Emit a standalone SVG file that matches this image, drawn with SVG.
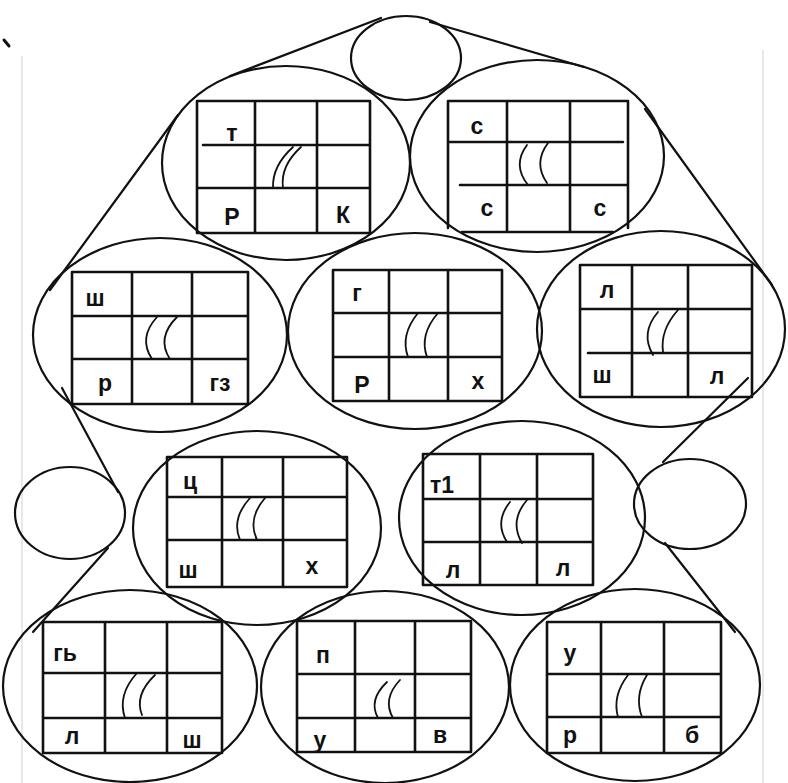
<svg xmlns="http://www.w3.org/2000/svg" width="788" height="783" viewBox="0 0 788 783">
<style>
.c{fill:none;stroke:#111;stroke-width:2.2}
.g{fill:none;stroke:#111;stroke-width:2.6;stroke-linecap:round}
.a{fill:none;stroke:#111;stroke-width:1.8;stroke-linecap:round}
.l{fill:none;stroke:#111;stroke-width:2.2;stroke-linecap:round}
.t{font-family:"Liberation Sans","DejaVu Sans",sans-serif;font-size:23px;font-weight:bold;fill:#111;text-anchor:middle}
.f{stroke:#d8d8d8;stroke-width:1.2}
</style>
<rect width="788" height="783" fill="#fff"/>
<g id="scan-marks">
<line class="f" x1="22" y1="56" x2="22" y2="783"/>
<line class="f" x1="763" y1="50" x2="763" y2="783"/>
<path d="M4 40 L9 46" stroke="#111" stroke-width="3" stroke-linecap="round"/>
</g>
<g id="connectors">
<line class="l" x1="381" y1="18" x2="230" y2="76"/>
<line class="l" x1="430" y1="22" x2="584" y2="67"/>
<line class="l" x1="178" y1="115" x2="50" y2="290"/>
<line class="l" x1="645" y1="109" x2="772" y2="285"/>
<line class="l" x1="62" y1="388" x2="118" y2="492"/>
<line class="l" x1="108" y1="548" x2="33" y2="632"/>
<line class="l" x1="748" y1="378" x2="663" y2="462"/>
<line class="l" x1="665" y1="543" x2="735" y2="632"/>
</g>
<g id="top-small"><ellipse class="c" cx="406" cy="58" rx="55" ry="42"/></g>
<g id="left-small"><ellipse class="c" cx="70" cy="513" rx="55" ry="46"/></g>
<g id="right-small"><ellipse class="c" cx="690" cy="504" rx="56" ry="45"/></g>

<g id="n-t-r-k">
<ellipse class="c" cx="286" cy="163" rx="124" ry="97"/>
<path class="g" d="M197 101 H370 M197 233 H370 M197 101 V233 M370 101 V233 M255 101 V233 M317 101 V233 M203 145 H370 M197 188 H370"/>
<path class="a" d="M293 147 Q272 166 273 188 M301 147 Q280 166 283 188"/>
<text class="t" x="232" y="141">т</text><text class="t" x="232" y="225">Р</text><text class="t" x="343" y="223">К</text>
</g>

<g id="n-s-s-s">
<ellipse class="c" cx="537" cy="156" rx="127" ry="96"/>
<path class="g" d="M448 101 H628 M462 232 H613 M448 101 V228 M628 101 V228 M507 101 V232 M570 101 V232 M450 142 H623 M460 185 H627"/>
<path class="a" d="M527 145 Q512 165 528 185 M548 143 Q533 163 547 183"/>
<text class="t" x="477" y="134">с</text><text class="t" x="487" y="216">с</text><text class="t" x="600" y="216">с</text>
</g>

<g id="n-sh-r-gz">
<ellipse class="c" cx="160" cy="335" rx="127" ry="97"/>
<path class="g" d="M72 272 H248 M72 404 H248 M72 272 V404 M248 272 V404 M132 272 V404 M192 272 V404 M72 316 H248 M72 359 H248"/>
<path class="a" d="M157 317 Q138 338 152 359 M177 317 Q156 338 170 359"/>
<text class="t" x="95" y="306">ш</text><text class="t" x="105" y="391">р</text><text class="t" x="220" y="391">гз</text>
</g>

<g id="n-g-r-h">
<ellipse class="c" cx="415" cy="331" rx="127" ry="98"/>
<path class="g" d="M333 270 H502 M333 401 H502 M333 270 V401 M502 270 V401 M389 270 V401 M448 270 V401 M333 313 H502 M333 357 H502"/>
<path class="a" d="M418 313 Q400 335 408 357 M438 313 Q419 335 427 357"/>
<text class="t" x="357" y="301">г</text><text class="t" x="362" y="393">Р</text><text class="t" x="478" y="389">х</text>
</g>

<g id="n-l-sh-l">
<ellipse class="c" cx="661" cy="329" rx="124" ry="98"/>
<path class="g" d="M580 265 H752 M580 397 H752 M580 265 V397 M752 265 V397 M632 265 V397 M688 265 V397 M580 309 H752 M588 353 H752"/>
<path class="a" d="M658 312 Q640 333 653 355 M678 310 Q660 330 663 352"/>
<text class="t" x="607" y="298">л</text><text class="t" x="602" y="383">ш</text><text class="t" x="717" y="384">л</text>
</g>

<g id="n-ts-sh-h">
<ellipse class="c" cx="257" cy="528" rx="124" ry="97"/>
<path class="g" d="M167 457 H347 M167 587 H347 M167 457 V587 M347 457 V587 M222 457 V587 M283 457 V587 M167 497 H347 M167 540 H347"/>
<path class="a" d="M250 498 Q231 519 240 540 M265 498 Q247 519 257 540"/>
<text class="t" x="190" y="489">ц</text><text class="t" x="188" y="578">ш</text><text class="t" x="312" y="574">х</text>
</g>

<g id="n-t1-l-l">
<ellipse class="c" cx="522" cy="518" rx="123" ry="97"/>
<path class="g" d="M423 454 H593 M423 585 H593 M423 454 V585 M593 454 V585 M480 454 V585 M537 454 V585 M423 499 H593 M423 542 H593"/>
<path class="a" d="M510 502 Q494 522 507 542 M527 500 Q509 521 522 543"/>
<text class="t" x="442" y="493">т1</text><text class="t" x="453" y="578">л</text><text class="t" x="563" y="576">л</text>
</g>

<g id="n-g-l-sh">
<ellipse class="c" cx="130" cy="686" rx="127" ry="96"/>
<path class="g" d="M43 622 H222 M43 753 H222 M43 622 V753 M222 622 V753 M105 622 V753 M167 622 V753 M43 673 H222 M43 718 H222"/>
<path class="a" d="M137 673 Q117 695 125 718 M155 675 Q134 695 142 715"/>
<text class="t" x="65" y="661">гь</text><text class="t" x="72" y="744">л</text><text class="t" x="192" y="748">ш</text>
</g>

<g id="n-p-u-v">
<ellipse class="c" cx="385" cy="687" rx="124" ry="96"/>
<path class="g" d="M297 621 H471 M297 752 H471 M297 621 V752 M471 621 V752 M355 621 V752 M415 621 V752 M297 674 H471 M297 718 H471"/>
<path class="a" d="M387 682 Q368 700 378 718 M400 680 Q382 699 393 718"/>
<text class="t" x="323" y="663">п</text><text class="t" x="320" y="748">у</text><text class="t" x="440" y="743">в</text>
</g>

<g id="n-u-r-b">
<ellipse class="c" cx="635" cy="685" rx="125" ry="96"/>
<path class="g" d="M547 622 H721 M547 753 H721 M547 622 V753 M721 622 V753 M601 622 V753 M664 622 V753 M547 674 H721 M547 717 H721"/>
<path class="a" d="M628 675 Q612 696 618 717 M647 675 Q634 696 642 717"/>
<text class="t" x="570" y="661">у</text><text class="t" x="570" y="743">р</text><text class="t" x="692" y="743">б</text>
</g>
</svg>
